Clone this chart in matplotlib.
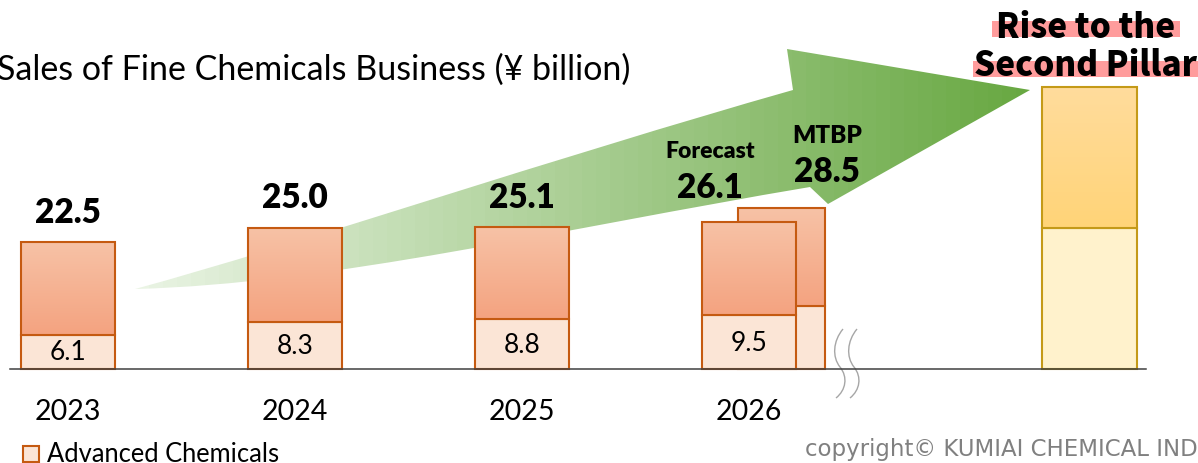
import numpy as np
import matplotlib.pyplot as plt
from matplotlib.path import Path
from matplotlib.patches import PathPatch, Rectangle
from matplotlib.colors import to_rgb

# data (¥ billion)
years = ['2023', '2024', '2025', '2026']
total_sales = [22.5, 25.0, 25.1, 26.1]
advanced_chem = [6.1, 8.3, 8.8, 9.5]
mtbp_total = 28.5
mtbp_advanced = 11.2      # not labelled
pillar_total = 50.0       # "second pillar" bar
pillar_advanced = 25.0

W, H = 1198, 464
fig = plt.figure(figsize=(W / 100, H / 100), dpi=100)

# pixel overlay for the decorations (arrow, title, legend ...)
deco = fig.add_axes([0, 0, 1, 1], zorder=0)
deco.set_xlim(0, W)
deco.set_ylim(H, 0)
deco.axis('off')

ax = fig.add_axes([0, 0, 1, 1], zorder=1)
ax.patch.set_alpha(0)
ax.axis('off')

PX_PER_UNIT = 5.64
BASE = 370
STEP, X0 = 227, 68
xlim = (-X0 / STEP, (W - X0) / STEP)
ylim = (-(H - BASE) / PX_PER_UNIT, BASE / PX_PER_UNIT)

ORANGE_EDGE = '#C55A11'
LIGHT_ORANGE = '#FBE5D6'
GOLD_EDGE = '#C49A18'
LIGHT_GOLD = '#FFF2CC'


def gradient(c1, c2, n=64, horizontal=False):
    t = np.linspace(0, 1, n)
    img = (1 - t)[:, None] * np.array(to_rgb(c1)) + t[:, None] * np.array(to_rgb(c2))
    return img[None, :, :] if horizontal else img[:, None, :]


def stacked(xs, lower, totals, width, light, top_c, bot_c, edge, z):
    upper = [t - l for t, l in zip(totals, lower)]
    ax.bar(xs, lower, width, color=light, edgecolor=edge, lw=1.5, zorder=z)
    bars = ax.bar(xs, upper, width, bottom=lower, facecolor='none',
                  edgecolor=edge, lw=1.5, zorder=z + 0.2)
    for p in bars:
        x, y, w, h = p.get_x(), p.get_y(), p.get_width(), p.get_height()
        ax.imshow(gradient(top_c, bot_c), extent=(x, x + w, y, y + h),
                  aspect='auto', origin='upper', zorder=z + 0.1)


# green arrow
verts = [(135, 290),
         (300, 245), (550, 160), (793, 91),
         (787, 50), (1030, 91), (828, 205), (810, 188),
         (560, 230), (330, 285), (135, 290)]
codes = [Path.MOVETO, Path.CURVE4, Path.CURVE4, Path.CURVE4,
         Path.LINETO, Path.LINETO, Path.LINETO, Path.LINETO,
         Path.CURVE4, Path.CURVE4, Path.CURVE4]
arrow = PathPatch(Path(verts, codes), facecolor='none', edgecolor='none')
deco.add_patch(arrow)
im = deco.imshow(gradient('#EAF4E4', '#68A842', horizontal=True),
                 extent=(135, 1030, 292, 48), aspect='auto')
im.set_clip_path(arrow)

# bars
xs = np.arange(len(years))
stacked([3.143], [mtbp_advanced], [mtbp_total], 0.383, LIGHT_ORANGE,
        '#F7C2A6', '#F4A380', ORANGE_EDGE, 2)
stacked(xs, advanced_chem, total_sales, 0.414, LIGHT_ORANGE,
        '#F7C2A6', '#F4A380', ORANGE_EDGE, 4)
stacked([4.5], [pillar_advanced], [pillar_total], 0.418, LIGHT_GOLD,
        '#FFDC9C', '#FFD478', GOLD_EDGE, 4)

ax.axhline(0, xmin=10 / W, xmax=1146 / W, color='#404040', lw=1.1, zorder=6)

# labels
for i, (tot, adv) in enumerate(zip(total_sales, advanced_chem)):
    ax.text(i, adv / 2, f'{adv:.1f}', ha='center', va='center',
            fontsize=19, family='Lato', zorder=7)
    ax.text(i, -7.45, years[i], ha='center', va='center', fontsize=20.5, family='Lato')
    if i < 3:
        ax.annotate(f'{tot:.1f}', (i, tot), xytext=(0, 22), textcoords='offset points',
                    ha='center', va='center', fontsize=24, fontweight='heavy', family='Lato')

ax.annotate(f'{total_sales[3]:.1f}', (3, total_sales[3]), xytext=(-28, 25),
            textcoords='offset points', ha='center', va='center',
            fontsize=24, fontweight='heavy', family='Lato', zorder=8)
ax.annotate('Forecast', (3, total_sales[3]), xytext=(-28, 51),
            textcoords='offset points', ha='center', va='center',
            fontsize=16.5, fontweight='heavy', family='Lato')
ax.annotate(f'{mtbp_total:.1f}', (3.143, mtbp_total), xytext=(33, 27),
            textcoords='offset points', ha='center', va='center',
            fontsize=24, fontweight='heavy', family='Lato', zorder=8)
ax.annotate('MTBP', (3.143, mtbp_total), xytext=(33, 53),
            textcoords='offset points', ha='center', va='center',
            fontsize=17.5, fontweight='heavy', family='Lato')

# "Rise to the Second Pillar" with marker-style highlight
deco.add_patch(Rectangle((992, 22), 188, 16, color='#FF9C9C', lw=0, zorder=1))
deco.add_patch(Rectangle((973, 62), 230, 16, color='#FF9C9C', lw=0, zorder=1))
deco.text(1086, 28, 'Rise to the', ha='center', va='center', fontsize=24,
          fontweight='heavy', family='Noto Sans CJK JP', zorder=2)
deco.text(1086, 65, 'Second Pillar', ha='center', va='center', fontsize=24,
          fontweight='heavy', family='Noto Sans CJK JP', zorder=2)

# break marks
for dx in (0, 14):
    bv = [(843 + dx, 330), (833 + dx, 342), (832 + dx, 358), (840 + dx, 368),
          (848 + dx, 378), (846 + dx, 391), (836 + dx, 399)]
    bc = [Path.MOVETO] + [Path.CURVE4] * 6
    deco.add_patch(PathPatch(Path(bv, bc), facecolor='none', edgecolor='#A6A6A6', lw=1))

deco.text(630, 80, 'Sales of Fine Chemicals Business (¥ billion)', ha='right',
          va='baseline', fontsize=24.5, family='Lato')

# legend
deco.add_patch(Rectangle((23, 447), 16, 16, facecolor=LIGHT_ORANGE,
                         edgecolor=ORANGE_EDGE, lw=1.5))
deco.text(47, 455, 'Advanced Chemicals', ha='left', va='center', fontsize=18.4, family='Lato')

deco.text(805, 450, 'copyright© KUMIAI CHEMICAL INDUSTRY CO., LTD.', ha='left',
          va='center', fontsize=16.5, color='#808080')

ax.set_xlim(*xlim)
ax.set_ylim(*ylim)
fig.savefig('out.png', dpi=100)
